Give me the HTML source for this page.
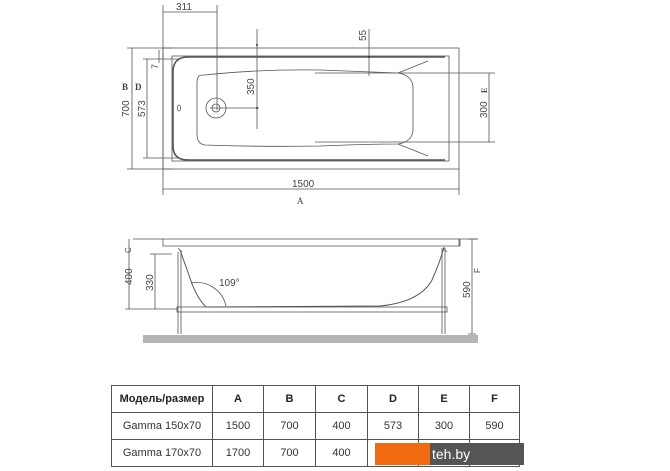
<!DOCTYPE html>
<html><head><meta charset="utf-8"><style>
html,body{margin:0;padding:0;background:#fff;width:670px;height:471px;overflow:hidden;position:relative;font-family:"Liberation Sans",sans-serif}
svg{position:absolute;left:0;top:0}
table{position:absolute;left:111px;top:385px;border-collapse:collapse;table-layout:fixed;width:408px;height:82px;font-family:"Liberation Sans",sans-serif;font-size:11px;color:#333}
td{border:1px solid #555;text-align:center;padding:0;overflow:hidden;white-space:nowrap}
tr:first-child td{font-weight:bold;font-size:11px;color:#222}
.badge{position:absolute;top:443px;height:22px;left:375px;width:149px}
.or{position:absolute;left:0;top:0;width:55px;height:22px;background:#f26a10}
.dk{position:absolute;left:55px;top:0;width:94px;height:22px;background:#555;color:#fff;font-size:14px;line-height:22px;padding-left:2px;box-sizing:border-box}
</style></head><body>
<svg width="670" height="471" viewBox="0 0 670 471" font-family="Liberation Sans, sans-serif" fill="none" stroke="#555" stroke-width="0.8">
<rect x="163" y="48" width="296" height="121"/>
<rect x="172" y="56" width="277" height="105"/>
<path d="M186 57 H445 M186 160 H445" stroke-width="1.5"/>
<path d="M188 57 Q173 57 173 72 V146 Q173 160 188 160" stroke-width="1.6"/>
<path d="M202 75 Q197 75 197 83 V134 Q197 144 205 145 Q260 147 320 146 Q370 144 398 144 Q412 142 413 130 V87 Q412 75 398 73 Q370 72 320 70 Q260 69 205 75 Z"/>
<path d="M398 73 L428 61 M398 144 L428 156"/>
<circle cx="216" cy="108" r="10"/><circle cx="216" cy="108" r="4"/>
<ellipse cx="179" cy="108" rx="1.5" ry="3"/>
<path d="M163 5 V178 M163 12 H217 M217 5 V110 M210 108 H259 M257 29 V129 M369 29 V76 M315 73 H495 M315 142 H495 M489 73 V142 M132 48 V169 M127 48 H172 M127 169 H172 M147 59 V158 M143 59 H178 M143 158 H178 M159 50 V63 M163 169 V195 M459 169 V195 M163 189 H459"/>
<g fill="#333" stroke="none">
<circle cx="257" cy="45" r="1"/><circle cx="257" cy="108" r="1"/><circle cx="369" cy="57" r="1"/>
</g>
<g fill="#444" stroke="none" font-size="10">
<text x="176" y="10">311</text>
<text x="292" y="187">1500</text>
<text x="297" y="204" font-size="9" font-family="Liberation Serif">A</text>
<text x="122" y="90" font-size="9" font-weight="bold" font-family="Liberation Serif">B</text>
<text x="135" y="90" font-size="9" font-weight="bold" font-family="Liberation Serif">D</text>
<text transform="translate(129,117) rotate(-90)">700</text>
<text transform="translate(145,117) rotate(-90)">573</text>
<text transform="translate(158,69) rotate(-90)" font-size="9">7</text>
<text transform="translate(254,95) rotate(-90)">350</text>
<text transform="translate(366,41) rotate(-90)">55</text>
<text transform="translate(487,118) rotate(-90)">300</text>
<text transform="translate(487,93) rotate(-90)" font-size="8" font-weight="bold" font-family="Liberation Serif">E</text>
</g>
<path d="M133 239 H478 M163 239 V246 H460 V239 M459 246 V239"/>
<rect x="177" y="307" width="270" height="5"/>
<path d="M178 252 V334 M181 252 V334 M442 248 V334 M445 248 V334"/>
<path d="M178 248 L182 252 M443 248 L447 252"/>
<path d="M180 250 L190 278 Q196 297 206 307 L380 306 Q420 302 432 280 Q440 262 444 247" stroke-width="1"/>
<path d="M191 283 A30 30 0 0 1 226 306"/>
<rect x="143" y="335" width="335" height="8" fill="#b5b5b5" stroke="none"/>
<path d="M129 239 V309 M125 309 H178 M155 254 V309 M150 254 H172 M472 239 V334 M468 239 H478 M468 334 H476"/>
<g fill="#444" stroke="none" font-size="10">
<text transform="translate(132,285) rotate(-90)">400</text>
<text transform="translate(153,291) rotate(-90)">330</text>
<text transform="translate(470,298) rotate(-90)">590</text>
<text transform="translate(131,253) rotate(-90)" font-size="8">C</text>
<text transform="translate(480,273) rotate(-90)" font-size="8">F</text>
<text x="219" y="286">109°</text>
</g>
</svg>
<table>
<colgroup><col style="width:101px"><col style="width:51px"><col style="width:52px"><col style="width:52px"><col style="width:51px"><col style="width:51px"><col style="width:50px"></colgroup>
<tr><td>Модель/размер</td><td>A</td><td>B</td><td>C</td><td>D</td><td>E</td><td>F</td></tr>
<tr><td>Gamma 150x70</td><td>1500</td><td>700</td><td>400</td><td>573</td><td>300</td><td>590</td></tr>
<tr><td>Gamma 170x70</td><td>1700</td><td>700</td><td>400</td><td></td><td></td><td></td></tr>
</table>
<div class="badge"><div class="or"></div><div class="dk">teh.by</div></div>
</body></html>
